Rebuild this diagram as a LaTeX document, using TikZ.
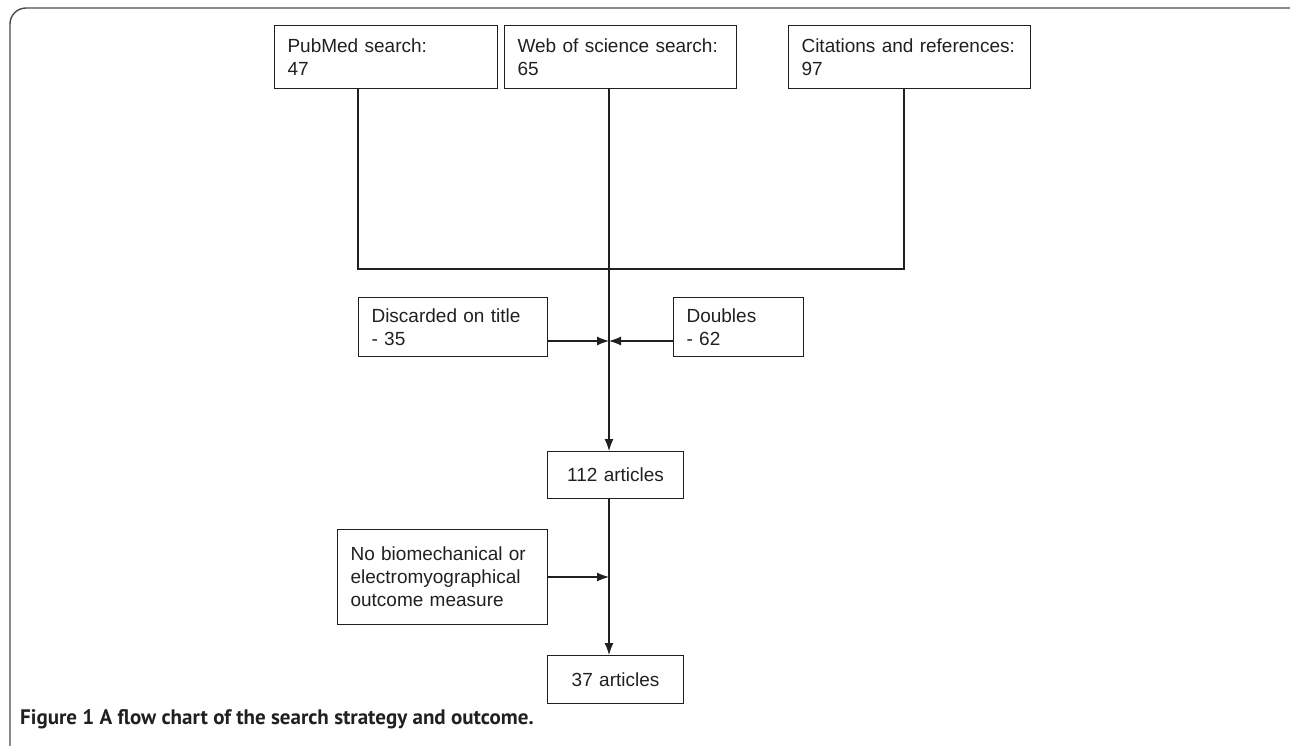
\documentclass[tikz,border=0pt]{standalone}
\usepackage{fontspec}
\setmainfont{Liberation Sans}
\newfontfamily\capfont{PT Sans}
\usetikzlibrary{arrows.meta}
\definecolor{ink}{HTML}{231F20}
\definecolor{framegray}{HTML}{4A4A4A}
\begin{document}
\begin{tikzpicture}[x=1pt,y=-1pt,
  box/.style={draw=ink, line width=1.1pt, rectangle, anchor=north west,
    inner xsep=13pt, inner ysep=0pt, align=left, text=ink,
    font=\fontsize{19}{23}\selectfont},
  cbox/.style={box, align=center, inner xsep=0pt},
  conn/.style={draw=ink, line width=1.2pt},
  arr/.style={conn, -{Latex[length=12pt,width=9pt]}}]
\useasboundingbox (0,0) rectangle (1290,746);
% frame (top and left only)
\draw[framegray, line width=1.4pt, rounded corners=16pt] (1290,8) -- (10,8) -- (10,746);
% boxes
\node[box, minimum width=223pt, minimum height=63pt, text width=197pt] (pub) at (274,25) {PubMed search:\\47};
\node[box, minimum width=232pt, minimum height=63pt, text width=206pt] (web) at (504,25) {Web of science search:\\65};
\node[box, minimum width=242pt, minimum height=63pt, text width=216pt] (cit) at (788,25) {Citations and references:\\97};
\node[box, minimum width=189pt, minimum height=59pt, text width=163pt] (disc) at (358,297) {Discarded on title\\- 35};
\node[box, minimum width=130pt, minimum height=59pt, text width=104pt] (dbl) at (673,297) {Doubles\\- 62};
\node[cbox, minimum width=136pt, minimum height=47pt, text width=136pt] (a112) at (547,451) {112 articles};
\node[box, minimum width=210pt, minimum height=95pt, text width=184pt] (nob) at (337,529) {No biomechanical or\\electromyographical\\outcome measure};
\node[cbox, minimum width=136pt, minimum height=48pt, text width=136pt] (a37) at (547,655) {37 articles};
% junction coordinates
\coordinate (jl) at (358,269);
\coordinate (jr) at (904,269);
\coordinate (m) at (609,269);
\coordinate (md) at (609,341);
\coordinate (mn) at (609,577);
% connectors
\draw[conn] (pub.south -| jl) -- (jl) -- (jr) -- (cit.south -| jr);
\draw[arr] (web.south -| m) -- (a112.north -| m);
\draw[arr] (disc.east |- md) -- (md);
\draw[arr] (dbl.west |- md) -- (md);
\draw[conn] (a112.south -| mn) -- (mn);
\draw[arr] (mn) -- (a37.north -| mn);
\draw[arr] (nob.east |- mn) -- (mn);
% caption
\node[anchor=west, inner sep=0pt, text=ink, font=\capfont\bfseries\fontsize{21}{24}\selectfont] (cap) at (20,719) {Figure 1 A flow chart of the search strategy and outcome.};
\end{tikzpicture}
\end{document}
